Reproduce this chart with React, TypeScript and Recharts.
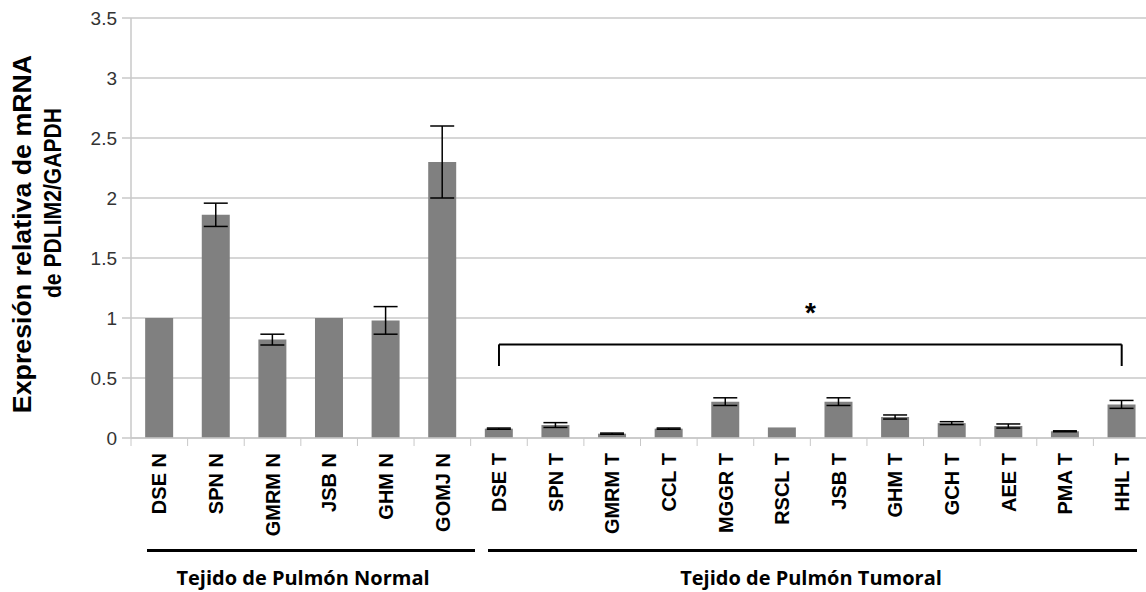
import React from 'react';
import {
  BarChart,
  Bar,
  XAxis,
  YAxis,
  CartesianGrid,
  ErrorBar,
  ReferenceLine,
} from 'recharts';

// muestras (N = tejido normal, T = tejido tumoral)
const samples = [
  'DSE N', 'SPN N', 'GMRM N', 'JSB N', 'GHM N', 'GOMJ N',
  'DSE T', 'SPN T', 'GMRM T', 'CCL T', 'MGGR T', 'RSCL T',
  'JSB T', 'GHM T', 'GCH T', 'AEE T', 'PMA T', 'HHL T',
];
const expression = [
  1.0, 1.86, 0.82, 1.0, 0.98, 2.3,
  0.078, 0.108, 0.036, 0.078, 0.303, 0.088,
  0.303, 0.175, 0.124, 0.1, 0.056, 0.28,
];
const errors = [
  0, 0.097, 0.045, 0, 0.115, 0.3,
  0.005, 0.02, 0.005, 0.005, 0.032, 0,
  0.032, 0.017, 0.012, 0.017, 0.004, 0.033,
];
const yTicks = [0, 0.5, 1, 1.5, 2, 2.5, 3, 3.5];

const data = samples.map((name, i) => ({
  name,
  value: expression[i],
  err: errors[i],
}));

const GRID = '#c8c8c8';
const SANS = '"Liberation Sans", Arial, sans-serif';

const CategoryTick = (props: any) => {
  const { x, y, payload } = props;
  const half = payload.offset ?? 0;
  return (
    <g>
      <line x1={x - half} y1={y - 15} x2={x - half} y2={y - 7} stroke={GRID} strokeWidth={1} />
      <text
        x={x}
        y={y}
        dy="0.36em"
        transform={`rotate(-90, ${x}, ${y})`}
        textAnchor="end"
        fontFamily={SANS}
        fontWeight="bold"
        fontSize={20}
        fill="#000"
      >
        {payload.value}
      </text>
    </g>
  );
};

const groupLabel: React.CSSProperties = {
  position: 'absolute',
  top: 566,
  fontFamily: '"Open Sans", Lato, sans-serif',
  fontWeight: 'bold',
  fontSize: 20,
  lineHeight: '24px',
  color: '#000',
  whiteSpace: 'nowrap',
  transform: 'translateX(-50%)',
};

const yLabel: React.CSSProperties = {
  position: 'absolute',
  fontFamily: SANS,
  fontWeight: 'bold',
  color: '#000',
  whiteSpace: 'nowrap',
  lineHeight: 1,
};

export default function App() {
  return (
    <div style={{ position: 'absolute', left: 0, top: 0, width: 1146, height: 592, overflow: 'hidden', background: '#fff' }}>
      <BarChart
        width={1160}
        height={592}
        data={data}
        margin={{ top: 18, right: 10, left: 0, bottom: 0 }}
        barCategoryGap="25%"
      >
        <CartesianGrid vertical={false} stroke={GRID} strokeWidth={1.5} />
        <YAxis
          width={131}
          domain={[0, 3.5]}
          ticks={yTicks}
          interval={0}
          axisLine={{ stroke: GRID, strokeWidth: 1.5 }}
          tickLine={{ stroke: GRID, strokeWidth: 1.5 }}
          tickSize={9}
          tickMargin={5}
          tick={{ fontFamily: SANS, fontSize: 19, fill: '#333' }}
        />
        <XAxis
          dataKey="name"
          height={154}
          interval={0}
          axisLine={{ stroke: GRID, strokeWidth: 1.5 }}
          tickLine={false}
          tickSize={0}
          tickMargin={15}
          tick={<CategoryTick />}
        />
        <Bar dataKey="value" fill="#808080" isAnimationActive={false}>
          <ErrorBar dataKey="err" width={12} stroke="#000" strokeWidth={1.5} direction="y" />
        </Bar>
        {/* corchete sobre las muestras tumorales */}
        <ReferenceLine segment={[{ x: 'DSE T', y: 0.78 }, { x: 'HHL T', y: 0.78 }]} stroke="#000" strokeWidth={2} />
        <ReferenceLine segment={[{ x: 'DSE T', y: 0.78 }, { x: 'DSE T', y: 0.6 }]} stroke="#000" strokeWidth={2} />
        <ReferenceLine segment={[{ x: 'HHL T', y: 0.78 }, { x: 'HHL T', y: 0.6 }]} stroke="#000" strokeWidth={2} />
        <ReferenceLine
          segment={[{ x: 'RSCL T', y: 1.12 }, { x: 'JSB T', y: 1.12 }]}
          stroke="none"
          label={{ value: '*', position: 'center', fontFamily: SANS, fontWeight: 'bold', fontSize: 28, fill: '#000', dy: 8 }}
        />
      </BarChart>

      <div style={{ ...yLabel, left: 22, top: 234, fontSize: 25, transform: 'translate(-50%, -50%) rotate(-90deg) scaleX(1.07)' }}>
        Expresión relativa de mRNA
      </div>
      <div style={{ ...yLabel, left: 53, top: 203, fontSize: 24, transform: 'translate(-50%, -50%) rotate(-90deg) scaleX(0.88)' }}>
        de PDLIM2/GAPDH
      </div>

      <div style={{ position: 'absolute', left: 147, top: 549, width: 328, height: 3, background: '#000' }} />
      <div style={{ position: 'absolute', left: 488, top: 549, width: 649, height: 3, background: '#000' }} />
      <div style={{ ...groupLabel, left: 303 }}>Tejido de Pulmón Normal</div>
      <div style={{ ...groupLabel, left: 811 }}>Tejido de Pulmón Tumoral</div>
    </div>
  );
}
